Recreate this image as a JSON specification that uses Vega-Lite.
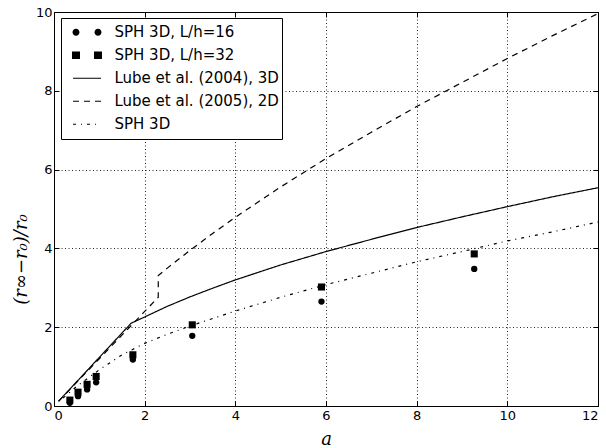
{
  "$schema": "https://vega.github.io/schema/vega-lite/v6.json",
  "autosize": {"type": "none"},
  "width": 544,
  "height": 394,
  "padding": {"left": 54, "top": 12, "right": 8, "bottom": 42},
  "background": "white",
  "config": {
    "view": {"stroke": "black", "strokeWidth": 1},
    "axis": {
      "domainColor": "black", "tickColor": "black", "labelColor": "black",
      "labelFont": "DejaVu Sans", "labelFontSize": 13,
      "gridColor": "black", "gridDash": [1, 2.5], "gridWidth": 1, "gridOpacity": 0.85,
      "tickSize": -5, "tickWidth": 1
    }
  },
  "datasets": {
    "lines": [
      {"a": 0.1, "r": 0.12, "series": "Lube et al. (2004), 3D", "o": 1},
      {"a": 1.7, "r": 2.1, "series": "Lube et al. (2004), 3D", "o": 2},
      {"a": 2, "r": 2.26, "series": "Lube et al. (2004), 3D", "o": 3},
      {"a": 2.5, "r": 2.53, "series": "Lube et al. (2004), 3D", "o": 4},
      {"a": 3, "r": 2.77, "series": "Lube et al. (2004), 3D", "o": 5},
      {"a": 3.5, "r": 2.99, "series": "Lube et al. (2004), 3D", "o": 6},
      {"a": 4, "r": 3.2, "series": "Lube et al. (2004), 3D", "o": 7},
      {"a": 5, "r": 3.58, "series": "Lube et al. (2004), 3D", "o": 8},
      {"a": 6, "r": 3.92, "series": "Lube et al. (2004), 3D", "o": 9},
      {"a": 7, "r": 4.23, "series": "Lube et al. (2004), 3D", "o": 10},
      {"a": 8, "r": 4.53, "series": "Lube et al. (2004), 3D", "o": 11},
      {"a": 9, "r": 4.8, "series": "Lube et al. (2004), 3D", "o": 12},
      {"a": 10, "r": 5.06, "series": "Lube et al. (2004), 3D", "o": 13},
      {"a": 11, "r": 5.31, "series": "Lube et al. (2004), 3D", "o": 14},
      {"a": 12, "r": 5.54, "series": "Lube et al. (2004), 3D", "o": 15},
      {"a": 0.1, "r": 0.12, "series": "Lube et al. (2005), 2D", "o": 1},
      {"a": 2.3, "r": 2.76, "series": "Lube et al. (2005), 2D", "o": 2},
      {"a": 2.3, "r": 3.31, "series": "Lube et al. (2005), 2D", "o": 3},
      {"a": 2.5, "r": 3.5, "series": "Lube et al. (2005), 2D", "o": 4},
      {"a": 3, "r": 3.95, "series": "Lube et al. (2005), 2D", "o": 5},
      {"a": 3.5, "r": 4.38, "series": "Lube et al. (2005), 2D", "o": 6},
      {"a": 4, "r": 4.79, "series": "Lube et al. (2005), 2D", "o": 7},
      {"a": 5, "r": 5.56, "series": "Lube et al. (2005), 2D", "o": 8},
      {"a": 6, "r": 6.28, "series": "Lube et al. (2005), 2D", "o": 9},
      {"a": 7, "r": 6.95, "series": "Lube et al. (2005), 2D", "o": 10},
      {"a": 8, "r": 7.6, "series": "Lube et al. (2005), 2D", "o": 11},
      {"a": 9, "r": 8.21, "series": "Lube et al. (2005), 2D", "o": 12},
      {"a": 10, "r": 8.82, "series": "Lube et al. (2005), 2D", "o": 13},
      {"a": 11, "r": 9.4, "series": "Lube et al. (2005), 2D", "o": 14},
      {"a": 12, "r": 9.96, "series": "Lube et al. (2005), 2D", "o": 15},
      {"a": 0.2, "r": 0.2, "series": "SPH 3D", "o": 1},
      {"a": 0.5, "r": 0.5, "series": "SPH 3D", "o": 2},
      {"a": 1, "r": 0.92, "series": "SPH 3D", "o": 3},
      {"a": 1.5, "r": 1.3, "series": "SPH 3D", "o": 4},
      {"a": 2, "r": 1.59, "series": "SPH 3D", "o": 5},
      {"a": 2.5, "r": 1.82, "series": "SPH 3D", "o": 6},
      {"a": 3, "r": 2.03, "series": "SPH 3D", "o": 7},
      {"a": 4, "r": 2.41, "series": "SPH 3D", "o": 8},
      {"a": 5, "r": 2.76, "series": "SPH 3D", "o": 9},
      {"a": 6, "r": 3.08, "series": "SPH 3D", "o": 10},
      {"a": 7, "r": 3.37, "series": "SPH 3D", "o": 11},
      {"a": 8, "r": 3.66, "series": "SPH 3D", "o": 12},
      {"a": 9, "r": 3.92, "series": "SPH 3D", "o": 13},
      {"a": 10, "r": 4.19, "series": "SPH 3D", "o": 14},
      {"a": 11, "r": 4.42, "series": "SPH 3D", "o": 15},
      {"a": 12, "r": 4.67, "series": "SPH 3D", "o": 16}
    ],
    "points": [
      {"a": 0.35, "r": 0.08, "series": "SPH 3D, L/h=16"},
      {"a": 0.53, "r": 0.25, "series": "SPH 3D, L/h=16"},
      {"a": 0.73, "r": 0.42, "series": "SPH 3D, L/h=16"},
      {"a": 0.93, "r": 0.6, "series": "SPH 3D, L/h=16"},
      {"a": 1.74, "r": 1.18, "series": "SPH 3D, L/h=16"},
      {"a": 3.05, "r": 1.78, "series": "SPH 3D, L/h=16"},
      {"a": 5.9, "r": 2.65, "series": "SPH 3D, L/h=16"},
      {"a": 9.27, "r": 3.48, "series": "SPH 3D, L/h=16"},
      {"a": 0.35, "r": 0.15, "series": "SPH 3D, L/h=32"},
      {"a": 0.53, "r": 0.35, "series": "SPH 3D, L/h=32"},
      {"a": 0.73, "r": 0.55, "series": "SPH 3D, L/h=32"},
      {"a": 0.93, "r": 0.75, "series": "SPH 3D, L/h=32"},
      {"a": 1.74, "r": 1.3, "series": "SPH 3D, L/h=32"},
      {"a": 3.05, "r": 2.06, "series": "SPH 3D, L/h=32"},
      {"a": 5.9, "r": 3.02, "series": "SPH 3D, L/h=32"},
      {"a": 9.27, "r": 3.86, "series": "SPH 3D, L/h=32"}
    ]
  },
  "layer": [
    {
      "data": {"name": "lines"},
      "mark": {"type": "line", "color": "black", "strokeWidth": 1.2},
      "encoding": {
        "x": {
          "field": "a", "type": "quantitative",
          "scale": {"domain": [0, 12], "nice": false, "zero": false},
          "axis": {
            "orient": "bottom", "values": [0, 2, 4, 6, 8, 10, 12], "format": "d",
            "grid": true, "labelPadding": 8, "title": "a",
            "titleFont": "DejaVu Serif", "titleFontStyle": "italic", "titleFontWeight": "normal",
            "titleFontSize": 18, "titlePadding": 8, "titleColor": "black"
          }
        },
        "y": {
          "field": "r", "type": "quantitative",
          "scale": {"domain": [0, 10], "nice": false, "zero": false},
          "axis": {
            "orient": "left", "values": [0, 2, 4, 6, 8, 10], "format": "d",
            "grid": true, "labelPadding": 7, "title": "(r∞−r₀)/r₀",
            "titleFont": "DejaVu Serif", "titleFontStyle": "italic", "titleFontWeight": "normal",
            "titleFontSize": 18, "titleColor": "black", "titleAngle": -90,
            "titleX": -33, "titleY": 247, "titleAlign": "center", "titleBaseline": "middle"
          }
        },
        "detail": {"field": "series"},
        "order": {"field": "o", "type": "quantitative"},
        "strokeDash": {
          "field": "series", "type": "nominal",
          "scale": {
            "domain": ["SPH 3D, L/h=16", "SPH 3D, L/h=32", "Lube et al. (2004), 3D", "Lube et al. (2005), 2D", "SPH 3D"],
            "range": [[1, 0], [1, 0], [1, 0], [6, 5], [3, 5, 1, 5]]
          },
          "legend": {
            "title": null, "orient": "none", "legendX": 7, "legendY": 6,
            "strokeColor": "black", "fillColor": "white", "padding": 3,
            "clipHeight": 22.5, "rowPadding": 0, "symbolOffset": 15.5, "labelOffset": 20,
            "symbolSize": 784, "symbolType": "stroke", "symbolStrokeColor": "black",
            "symbolStrokeWidth": 1.2, "labelLimit": 400,
            "labelFont": "DejaVu Sans", "labelFontSize": 15, "labelColor": "black",
            "encode": {
              "symbols": {
                "update": {
                  "shape": {"signal": "datum.value === 'SPH 3D, L/h=16' ? 'M-1.036,0A0.25,0.25 0 1,0 -0.536,0A0.25,0.25 0 1,0 -1.036,0ZM0.536,0A0.25,0.25 0 1,0 1.036,0A0.25,0.25 0 1,0 0.536,0Z' : (datum.value === 'SPH 3D, L/h=32' ? 'M-1.07,-0.27H-0.5V0.27H-1.07ZM0.5,-0.27H1.07V0.27H0.5Z' : 'stroke')"},
                  "size": {"value": 784},
                  "fill": {"signal": "(datum.value === 'SPH 3D, L/h=16' || datum.value === 'SPH 3D, L/h=32') ? 'black' : 'transparent'"},
                  "stroke": {"value": "black"},
                  "strokeWidth": {"signal": "(datum.value === 'SPH 3D, L/h=16' || datum.value === 'SPH 3D, L/h=32') ? 0 : 1.2"}
                }
              }
            }
          }
        }
      }
    },
    {
      "data": {"name": "points"},
      "mark": {"type": "point", "filled": true, "color": "black", "opacity": 1},
      "encoding": {
        "x": {
          "field": "a", "type": "quantitative",
          "scale": {"domain": [0, 12], "nice": false, "zero": false},
          "axis": {"orient": "top", "values": [0, 2, 4, 6, 8, 10, 12], "labels": false, "grid": false, "title": null, "domain": false}
        },
        "y": {
          "field": "r", "type": "quantitative",
          "scale": {"domain": [0, 10], "nice": false, "zero": false},
          "axis": {"orient": "right", "values": [0, 2, 4, 6, 8, 10], "labels": false, "grid": false, "title": null, "domain": false}
        },
        "shape": {
          "field": "series", "type": "nominal",
          "scale": {"domain": ["SPH 3D, L/h=16", "SPH 3D, L/h=32"], "range": ["circle", "square"]},
          "legend": null
        },
        "size": {
          "field": "series", "type": "nominal",
          "scale": {"type": "ordinal", "domain": ["SPH 3D, L/h=16", "SPH 3D, L/h=32"], "range": [40, 50]},
          "legend": null
        }
      }
    }
  ]
}
